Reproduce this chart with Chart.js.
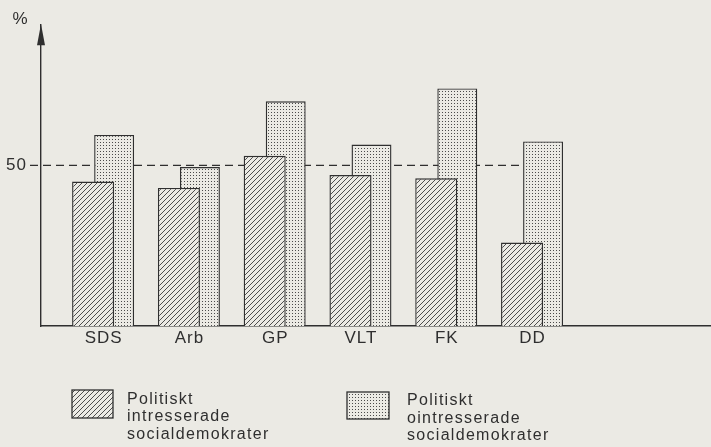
<!DOCTYPE html>
<html><head><meta charset="utf-8">
<script src="https://cdn.jsdelivr.net/npm/chart.js@4/dist/chart.umd.min.js"></script>
<style>html,body{margin:0;padding:0;background:#ebeae4;}#wrap{width:711px;height:447px;position:relative}</style>
</head><body><div id="wrap"><canvas id="c" width="711" height="447"></canvas></div>
<script>
// ---- data ----
const categories = ['SDS', 'Arb', 'GP', 'VLT', 'FK', 'DD'];
const interested = [45, 43, 53, 47, 46, 26];
const uninterested = [59.5, 49.5, 70, 56.5, 74, 57.5];
const yTicks = [50];
const referenceValue = 50;
const yUnit = '%';
const seriesNames = [
  ['Politiskt', 'intresserade', 'socialdemokrater'],
  ['Politiskt', 'ointresserade', 'socialdemokrater']
];

// ---- style ----
const BG = '#ebeae4';
const INK = '#2f2f2f';
const FONT = '"Liberation Sans", Arial, sans-serif';

const canvas = document.getElementById('c');
const ctx = canvas.getContext('2d');

function hatchPattern() {
  const s = 5, c = document.createElement('canvas');
  c.width = c.height = s;
  const g = c.getContext('2d');
  g.fillStyle = BG; g.fillRect(0, 0, s, s);
  g.strokeStyle = '#4d4d4d'; g.lineWidth = 1.0;
  g.beginPath();
  g.moveTo(-1, s + 1); g.lineTo(s + 1, -1);
  g.moveTo(-1, 1); g.lineTo(1, -1);
  g.moveTo(s - 1, s + 1); g.lineTo(s + 1, s - 1);
  g.stroke();
  return ctx.createPattern(c, 'repeat');
}
function dotPattern() {
  const s = 3, c = document.createElement('canvas');
  c.width = c.height = s;
  const g = c.getContext('2d');
  g.fillStyle = BG; g.fillRect(0, 0, s, s);
  g.fillStyle = '#4a4a4a'; g.fillRect(1, 1, 1, 1);
  return ctx.createPattern(c, 'repeat');
}
const hatch = hatchPattern();
const dots = dotPattern();

const bgPlugin = {
  id: 'bg',
  beforeDraw(chart) {
    const c = chart.ctx;
    c.save();
    c.fillStyle = BG;
    c.fillRect(0, 0, chart.width, chart.height);
    c.restore();
    c.letterSpacing = '1px';
  }
};

const refLinePlugin = {
  id: 'refLine',
  beforeDatasetsDraw(chart) {
    const c = chart.ctx, y = chart.scales.y.getPixelForValue(referenceValue);
    const meta = chart.getDatasetMeta(1);
    const last = meta.data[meta.data.length - 1];
    const xEnd = last.x - last.width / 2;
    c.save();
    c.strokeStyle = INK; c.lineWidth = 1.2;
    c.setLineDash([8, 5]);
    c.beginPath();
    c.moveTo(chart.chartArea.left - 11, y);
    c.lineTo(xEnd, y);
    c.stroke();
    c.restore();
  }
};

const decoPlugin = {
  id: 'deco',
  afterDraw(chart) {
    const c = chart.ctx, a = chart.chartArea;
    c.save();
    // arrow on y axis
    c.fillStyle = INK;
    c.beginPath();
    c.moveTo(a.left, a.top);
    c.lineTo(a.left - 4, a.top + 21);
    c.lineTo(a.left + 4, a.top + 21);
    c.closePath();
    c.fill();
    // unit label
    c.letterSpacing = '0px';
    c.font = '17px ' + FONT;
    c.textAlign = 'center'; c.textBaseline = 'middle';
    c.fillText(yUnit, 20, 19);
    // legend
    const items = [
      { fill: hatch, box: [72, 390, 41, 28], tx: 127, ty: 403.5 },
      { fill: dots, box: [347, 392, 42, 27], tx: 407, ty: 405 }
    ];
    c.font = '16px ' + FONT;
    c.letterSpacing = '1.3px';
    c.textAlign = 'left'; c.textBaseline = 'alphabetic';
    items.forEach((it, i) => {
      const [x, y, w, h] = it.box;
      c.fillStyle = it.fill;
      c.fillRect(x, y, w, h);
      c.strokeStyle = INK; c.lineWidth = 1.3;
      c.strokeRect(x, y, w, h);
      c.fillStyle = INK;
      seriesNames[i].forEach((line, j) => c.fillText(line, it.tx, it.ty + j * 17.5));
    });
    c.restore();
  }
};

new Chart(canvas, {
  type: 'bar',
  data: {
    datasets: [
      {
        label: seriesNames[0].join(' '),
        data: interested.map((v, i) => ({ x: i, y: v })),
        backgroundColor: hatch,
        borderColor: INK, borderWidth: 1.4,
        categoryPercentage: 0.49, barPercentage: 2
      },
      {
        label: seriesNames[1].join(' '),
        data: uninterested.map((v, i) => ({ x: i, y: v })),
        backgroundColor: dots,
        borderColor: INK, borderWidth: 1.4,
        categoryPercentage: 0.49, barPercentage: 1.9
      }
    ]
  },
  options: {
    responsive: false,
    animation: false,
    devicePixelRatio: 1,
    layout: { padding: { top: 22, right: 0, bottom: 97, left: 0 } },
    plugins: { legend: { display: false }, tooltip: { enabled: false } },
    scales: {
      x: {
        type: 'linear',
        min: -0.73, max: 7.08,
        offset: false,
        grid: { display: false, drawTicks: false, offset: false },
        border: { display: true, color: INK, width: 1.4 },
        afterBuildTicks: s => { s.ticks = categories.map((_, i) => ({ value: i })); },
        afterFit: s => { s.height = 24; },
        ticks: {
          autoSkip: false, maxRotation: 0, padding: 2,
          color: INK, font: { family: FONT, size: 17 },
          callback: v => categories[v] ?? ''
        }
      },
      y: {
        min: 0, max: 94,
        grid: { drawOnChartArea: false, drawTicks: false },
        border: { display: true, color: INK, width: 1.4 },
        afterBuildTicks: s => { s.ticks = yTicks.map(v => ({ value: v })); },
        afterFit: s => { s.width = 41; },
        ticks: { padding: 14, color: INK, font: { family: FONT, size: 17 } }
      }
    }
  },
  plugins: [bgPlugin, refLinePlugin, decoPlugin]
});
</script></body></html>
